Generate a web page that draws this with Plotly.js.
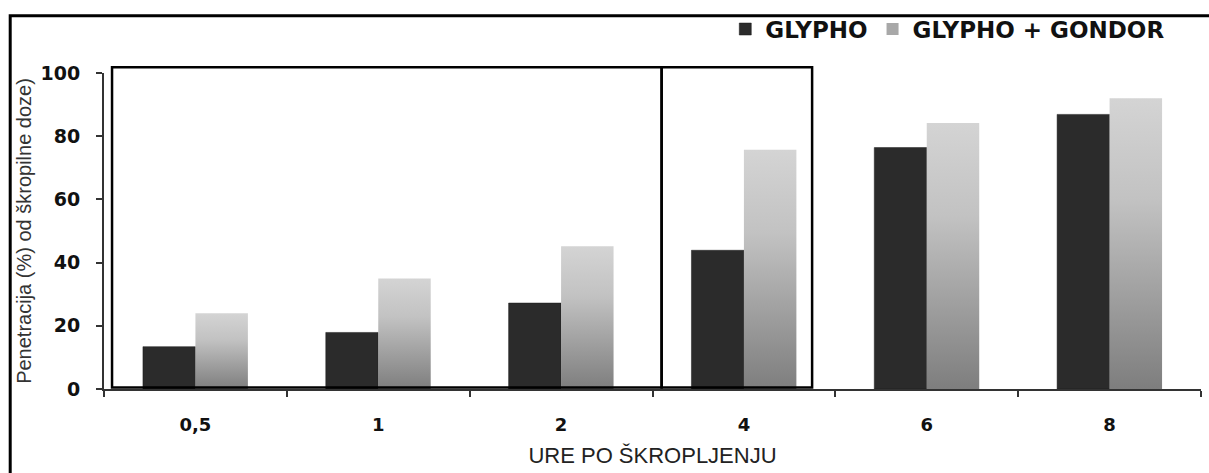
<!DOCTYPE html>
<html>
<head>
<meta charset="utf-8">
<script src="https://cdn.plot.ly/plotly-3.0.1.min.js"></script>
<style>
html,body{margin:0;padding:0;background:#fff;}
#chart{width:1209px;height:473px;}
</style>
</head>
<body>
<div id="chart"></div>
<script>
// Data
const categories = ["0,5", "1", "2", "4", "6", "8"];
const glypho = [13.4, 17.9, 27.2, 43.9, 76.4, 86.9];
const glyphoGondor = [24.0, 35.0, 45.2, 75.7, 84.2, 92.0];
const seriesNames = ["GLYPHO", "GLYPHO + GONDOR"];
const yTicks = [0, 20, 40, 60, 80, 100];
const xTitle = "URE PO ŠKROPLJENJU";
const yTitle = "Penetracija (%) od škropilne doze)";

const traces = [
  {type: "bar", name: seriesNames[0], x: categories, y: glypho,
   marker: {color: "#2b2b2b", line: {color: "#1a1a1a", width: 0.5}}},
  {type: "bar", name: seriesNames[1], x: categories, y: glyphoGondor,
   marker: {color: "#aaaaaa", line: {width: 0}}}
];

const layout = {
  width: 1209, height: 473,
  margin: {l: 104, r: 8, t: 71, b: 84},
  paper_bgcolor: "#ffffff", plot_bgcolor: "#ffffff",
  barmode: "group", bargap: 0.426, bargroupgap: 0,
  showlegend: true,
  legend: {orientation: "h", x: 0.972, xanchor: "right", y: 1.139, yanchor: "middle",
           font: {family: "DejaVu Sans", size: 23, color: "#111", weight: "bold"},
           itemwidth: 30, tracegroupgap: 0, traceorder: "normal", bgcolor: "rgba(0,0,0,0)"},
  xaxis: {type: "category", range: [-0.5, 5.5], showgrid: false, zeroline: false,
          showline: true, linecolor: "#333", linewidth: 2,
          ticks: "outside", tickson: "boundaries", ticklen: 6, tickwidth: 2, tickcolor: "#333",
          ticklabelstandoff: 18,
          tickfont: {family: "DejaVu Sans", size: 18, color: "#111", weight: "bold"},
          title: {text: xTitle, standoff: 14, font: {family: "Liberation Sans", size: 22, color: "#222"}}},
  yaxis: {range: [0, 100], tickvals: yTicks, showgrid: false, zeroline: false,
          showline: true, linecolor: "#333", linewidth: 2,
          ticks: "outside", ticklen: 6, tickwidth: 2, tickcolor: "#333",
          ticklabelstandoff: 12,
          tickfont: {family: "DejaVu Sans", size: 19, color: "#111", weight: "bold"},
          title: {text: yTitle, standoff: 4, font: {family: "Liberation Sans", size: 20, color: "#333"}}},
  shapes: [
    {type: "rect", xref: "x", yref: "paper", x0: -0.456, x1: 2.55, y0: 0.005, y1: 1.018,
     line: {color: "#000", width: 2.5}, fillcolor: "rgba(0,0,0,0)", layer: "above"},
    {type: "rect", xref: "x", yref: "paper", x0: 2.55, x1: 3.373, y0: 0.005, y1: 1.018,
     line: {color: "#000", width: 2.5}, fillcolor: "rgba(0,0,0,0)", layer: "above"},
    {type: "rect", xref: "paper", yref: "paper", x0: -0.0855, x1: 1.03, y0: -0.3, y1: 1.1810,
     line: {color: "#000", width: 3}, fillcolor: "rgba(0,0,0,0)"}
  ]
};

Plotly.newPlot("chart", traces, layout, {displayModeBar: false, staticPlot: true}).then(function(gd){
  const svg = gd.querySelector("svg.main-svg");
  const ns = "http://www.w3.org/2000/svg";
  let defs = svg.querySelector("defs");
  if (!defs) { defs = document.createElementNS(ns, "defs"); svg.insertBefore(defs, svg.firstChild); }
  const lg = document.createElementNS(ns, "linearGradient");
  lg.setAttribute("id", "gondorGrad");
  lg.setAttribute("x1", "0"); lg.setAttribute("y1", "0");
  lg.setAttribute("x2", "0"); lg.setAttribute("y2", "1");
  [["0", "#d4d4d4"], ["0.35", "#c2c2c2"], ["1", "#7e7e7e"]].forEach(function(s){
    const st = document.createElementNS(ns, "stop");
    st.setAttribute("offset", s[0]); st.setAttribute("stop-color", s[1]);
    lg.appendChild(st);
  });
  defs.appendChild(lg);
  const barTraces = gd.querySelectorAll(".barlayer .trace");
  if (barTraces[1]) barTraces[1].querySelectorAll("path").forEach(function(p){ p.style.fill = "url(#gondorGrad)"; });
  const legTraces = gd.querySelectorAll(".legend .traces");
  if (legTraces[1]) legTraces[1].querySelectorAll(".legendpoints path").forEach(function(p){ p.style.fill = "#a8a8a8"; });
});
</script>
</body>
</html>
